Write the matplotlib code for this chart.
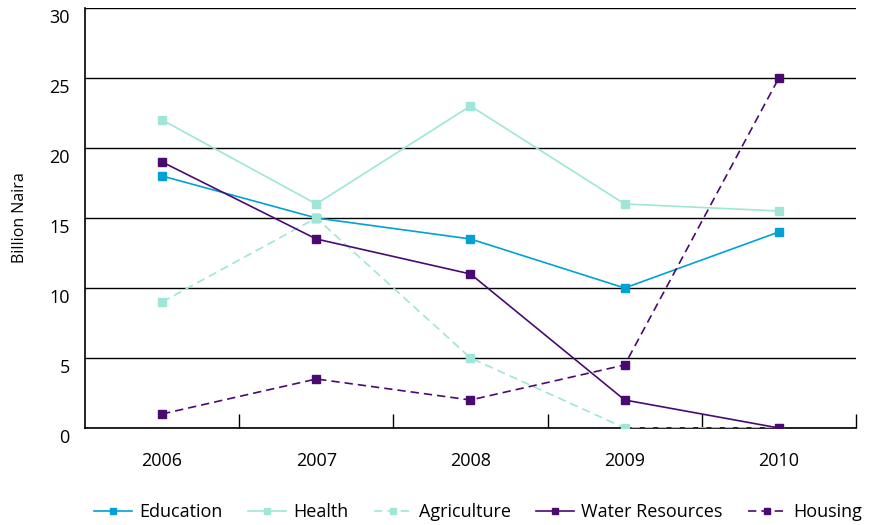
import matplotlib.pyplot as plt
import matplotlib.transforms as mtransforms
import numpy as np

# chart data
years = ["2006", "2007", "2008", "2009", "2010"]
education = [18, 15, 13.5, 10, 14]
health = [22, 16, 23, 16, 15.5]
agriculture = [9, 15, 5, 0, 0]
water = [19, 13.5, 11, 2, 0]
housing = [1, 3.5, 2, 4.5, 25]

blue = "#00a2d4"
teal = "#9fe6d6"
purple = "#4a0a70"

plt.rcParams['font.family'] = ['Open Sans', 'DejaVu Sans']

fig = plt.figure(figsize=(8.69, 5.25), dpi=100)
ax = fig.add_axes([0.0978, 0.1848, 0.8872, 0.8])

x = np.arange(len(years))
ax.plot(x, education, color=blue, lw=1.2, marker="s", ms=5.2, label="Education", zorder=3)
ax.plot(x, health, color=teal, lw=1.2, marker="s", ms=5.2, label="Health", zorder=3)
ax.plot(x, agriculture, color=teal, lw=1.2, ls=(0, (5, 3)), marker="s", ms=5.2, label="Agriculture", zorder=3)
ax.plot(x, water, color=purple, lw=1.2, marker="s", ms=5.2, label="Water Resources", zorder=3)
ax.plot(x, housing, color=purple, lw=1.2, ls=(0, (5, 3)), marker="s", ms=5.2, label="Housing", zorder=3)

ax.set_xlim(-0.5, 4.5)
ax.set_ylim(0, 30)
ax.set_yticks([0, 5, 10, 15, 20, 25, 30])
ax.set_xticks(x)
ax.set_xticklabels(years)
ax.set_xticks(x + 0.5, minor=True)
ax.tick_params(axis="x", which="major", length=0, pad=17, labelsize=13)
ax.tick_params(axis="x", which="minor", direction="in", length=10, width=1, color="black")
ax.tick_params(axis="y", length=0, pad=11, labelsize=13)

# y labels sit a little below their grid line
offset = mtransforms.ScaledTranslation(0, -8 / 100, fig.dpi_scale_trans)
for lab in ax.get_yticklabels():
    lab.set_transform(lab.get_transform() + offset)

ax.yaxis.grid(True, color="black", lw=1)
ax.set_axisbelow(True)
for s in ["top", "right"]:
    ax.spines[s].set_visible(False)
ax.spines["left"].set_linewidth(1.2)
ax.spines["bottom"].set_linewidth(1.2)

ax.set_ylabel("Billion Naira", fontsize=11.5, labelpad=15)

ax.legend(loc="center", bbox_to_anchor=(0.51, -0.2), ncol=5, frameon=False,
          fontsize=13, handlelength=2.1, columnspacing=1.4, handletextpad=0.4,
          markerscale=0.75)

fig.savefig("out.png", dpi=100)
